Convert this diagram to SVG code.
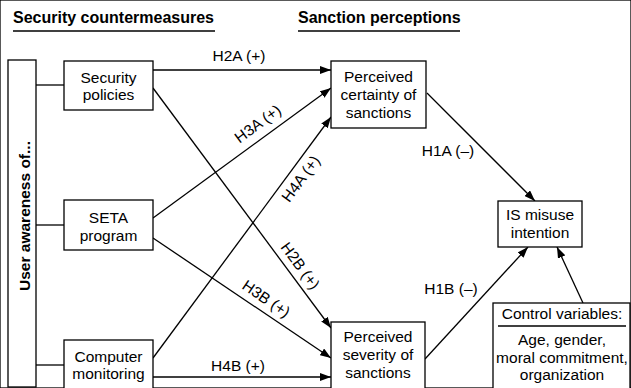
<svg xmlns="http://www.w3.org/2000/svg" width="631" height="388" viewBox="0 0 631 388">
<style>
text{font-family:"Liberation Sans",Arial,sans-serif;font-size:15.5px;fill:#000}
.b{font-weight:bold}
.h{font-size:16px}
.c{text-anchor:middle}
rect{fill:#fff;stroke:#000;stroke-width:1.3}
.l{stroke:#000;stroke-width:1.3;fill:none}
.a{stroke:#000;stroke-width:1.3;fill:none;marker-end:url(#ah)}
</style>
<defs>
<marker id="ah" markerUnits="userSpaceOnUse" markerWidth="11" markerHeight="8" refX="11" refY="4" orient="auto">
<path d="M0,0 L11,4 L0,8 z" fill="#000"/>
</marker>
</defs>
<rect width="631" height="388" fill="#fff" stroke="none"/>
<g id="headers">
<text class="b h" x="13" y="23">Security countermeasures</text>
<line class="l" x1="13" y1="31" x2="215" y2="31"/>
<text class="b h" x="298" y="23">Sanction perceptions</text>
<line class="l" x1="298" y1="31" x2="460" y2="31"/>
</g>
<g id="connectors">
<line class="l" x1="36" y1="85" x2="64" y2="85"/>
<line class="l" x1="36" y1="225" x2="64" y2="225"/>
<line class="l" x1="36" y1="365" x2="64" y2="365"/>
<line class="a" x1="153" y1="70" x2="331" y2="70"/>
<line class="a" x1="153" y1="218" x2="331" y2="88"/>
<line class="a" x1="153" y1="358" x2="331" y2="117"/>
<line class="a" x1="153" y1="88" x2="331" y2="328"/>
<line class="a" x1="153" y1="238" x2="331" y2="358"/>
<line class="a" x1="153" y1="377" x2="331" y2="377"/>
<line class="a" x1="427" y1="93" x2="535" y2="201"/>
<line class="a" x1="425" y1="359" x2="528" y2="247"/>
<line class="a" x1="583" y1="303" x2="557" y2="247"/>
<text class="c" x="239" y="61">H2A (+)</text>
<text class="c" x="238" y="371">H4B (+)</text>
<text class="c" x="448" y="156">H1A (–)</text>
<text class="c" x="451" y="294">H1B (–)</text>
<text class="c" transform="translate(258,124) rotate(-36.3)" y="5">H3A (+)</text>
<text class="c" transform="translate(301,179) rotate(-53.6)" y="5">H4A (+)</text>
<text class="c" transform="translate(300,266) rotate(53.5)" y="5">H2B (+)</text>
<text class="c" transform="translate(266,299) rotate(34.1)" y="5">H3B (+)</text>
</g>
<g id="user-awareness">
<rect x="8" y="60" width="28" height="327"/>
<text class="b c" transform="translate(30,216) rotate(-90)">User awareness of...</text>
</g>
<g id="security-policies">
<rect x="64" y="61" width="89" height="49"/>
<text class="c" x="108.5" y="83">Security</text>
<text class="c" x="108.5" y="100">policies</text>
</g>
<g id="seta-program">
<rect x="64" y="200" width="89" height="50"/>
<text class="c" x="108.5" y="223">SETA</text>
<text class="c" x="108.5" y="241">program</text>
</g>
<g id="computer-monitoring">
<rect x="64" y="340" width="89" height="52"/>
<text class="c" x="108.5" y="362">Computer</text>
<text class="c" x="108.5" y="379">monitoring</text>
</g>
<g id="perceived-certainty">
<rect x="331" y="61" width="95" height="67"/>
<text class="c" x="378.5" y="82">Perceived</text>
<text class="c" x="378.5" y="100">certainty of</text>
<text class="c" x="378.5" y="118">sanctions</text>
</g>
<g id="perceived-severity">
<rect x="331" y="322" width="94" height="70"/>
<text class="c" x="378" y="342">Perceived</text>
<text class="c" x="378" y="360">severity of</text>
<text class="c" x="378" y="378">sanctions</text>
</g>
<g id="is-misuse">
<rect x="498" y="201" width="84" height="46"/>
<text class="c" x="540" y="220">IS misuse</text>
<text class="c" x="540" y="238">intention</text>
</g>
<g id="control-variables">
<rect x="493" y="303" width="137" height="90"/>
<text class="c" x="562" y="319">Control variables:</text>
<line class="l" x1="498" y1="326" x2="626" y2="326"/>
<text class="c" x="562" y="345">Age, gender,</text>
<text class="c" x="562" y="363">moral commitment,</text>
<text class="c" x="562" y="380">organization</text>
</g>
</svg>
